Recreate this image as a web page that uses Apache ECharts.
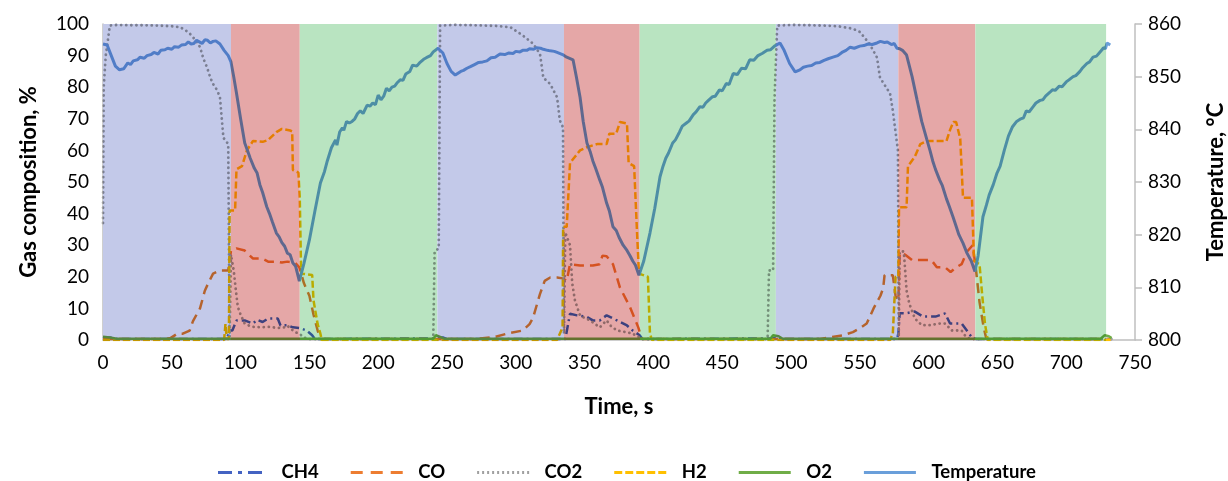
<!DOCTYPE html>
<html>
<head>
<meta charset="utf-8">
<script src="https://cdn.jsdelivr.net/npm/echarts@6/dist/echarts.min.js"></script>
<style>
html,body{margin:0;padding:0;background:#fff;}
#chart{width:1228px;height:481px;}
</style>
</head>
<body>
<div id="chart"></div>
<script>
// ---- Data (time in s, gas in %, temperature in °C) ----
const xTicks = { min: 0, max: 750, interval: 50 };
const gasTicks = { min: 0, max: 100, interval: 10 };
const tempTicks = { min: 800, max: 860, interval: 10 };

// phase bands: [start, end, phaseIndex] 0 = blue, 1 = red, 2 = green
const phases = [
  [0, 93, 0], [93, 143, 1], [143, 243, 2],
  [243, 335, 0], [335, 390, 1], [390, 489, 2],
  [489, 578, 0], [578, 634, 1], [634, 729, 2]
];

const ch4 = [[0,0.5],[5,0.8],[10,0.3],[90,0.3],[92,3],[94,3],[97,6.2],[103,6.2],[109,5.2],[112,6.4],[116,5.7],[120,6.8],[127,6.8],[129,4.6],[134,4.7],[138,4],[143,3.8],[148,3],[152,1.5],[154,0.3],[243,0.5],[247,0.8],[250,0.3],[336,0.3],[337,0.8],[339.4,8.3],[344.5,7.8],[351.7,7.3],[356,6.2],[361,6.2],[366,7.8],[373.5,6.2],[380.8,4.6],[385,3],[390,1.5],[392,0.3],[487,0.5],[490,1],[493,0.3],[577,0.3],[578,2],[579,8.5],[583,8.4],[590,9],[596,7.4],[605,7.4],[612,8.4],[615.6,5.2],[624,5.2],[628.6,2.5],[632,0.5],[635,0.3],[733,0.3]];

const co = [[0,0.3],[45,0.3],[49,0.6],[54,2],[58,2],[63,3],[65.4,6],[70.5,10],[74,15.6],[76.3,17.8],[80,21],[83,21.6],[86,22],[91,22],[93,28.3],[97,29],[103,28.3],[106,27],[109,25.8],[115.5,25.8],[120,24.8],[126,24.8],[130,24.5],[134,24.8],[139.5,24.5],[142.7,23],[146,18],[150,14],[153,8],[156,3],[158,0.3],[270,0.3],[274,0.5],[285,1],[293.6,2],[305,3],[310,5],[312.5,7],[317.6,14.6],[321,18.7],[325,19.8],[330,19.8],[334,19.5],[337,18.7],[339.4,24],[346.7,23.6],[356,23.6],[361,24],[363,26.7],[366,26.5],[370.6,24],[375.7,16.6],[383,10.4],[389,4],[391.7,0.3],[521,0.3],[538,1.5],[545,2.5],[551,4],[555,5.2],[560,10],[565,14],[567,16.4],[568,20.5],[574,20.5],[576,14],[578,12.5],[579,27.5],[583,27],[588,25.3],[602,25.3],[606,23],[612,23],[616,21.5],[620,23],[624,24],[628,28],[632,30],[634,24],[637,12],[640,4],[642,0.3],[733,0.3]];

const co2 = [[0,37],[0.5,80],[2,90],[5,99.5],[10,99.7],[20,99.6],[30,99.6],[40,99.5],[50,99.3],[56,99],[60,98],[63,97],[67,95],[70.5,92.7],[73,89],[75.5,86.4],[78,83],[80,81],[83,79],[85,76.8],[87.5,64],[91,62],[92,1],[93,27],[95,22],[97,14],[98,10.5],[100,8],[103,5.2],[108,4.2],[115,4],[120,4.2],[127,3.8],[132,4],[134,4.5],[139.5,2.5],[142.7,2],[146,0.8],[150,0.3],[240,0.3],[241,28],[244,29],[245,99.5],[255,99.7],[270,99.6],[285,99.4],[296,99],[305,96.4],[312.5,93.8],[317.6,90.5],[320,83],[325,81],[330,76.8],[332,69.5],[334.3,67.3],[335,2],[336,34],[339.4,30],[341,18],[343,12.5],[346.7,7.7],[350,7],[354,6.2],[361,4],[366,6.2],[369,4.5],[373.5,3],[380,2.5],[385,2],[389,1],[392,0.3],[483,0.3],[484,22],[487,22],[488,76],[490,99.5],[500,99.7],[515,99.6],[530,99.4],[535.6,99.2],[545,98.5],[550,97.5],[557,93.8],[562.5,89.4],[564.7,83],[572,78],[574,72.6],[577.7,60],[578.3,1],[579,28],[582,28],[584,15.6],[586,11.5],[590,6.8],[595,4.7],[602,4.7],[607,5.2],[612,5.2],[617,3],[624,3],[626.5,1.4],[630,0.3],[733,0.3]];

const h2 = [[0,0],[88,0],[89,5],[90,0.3],[91.5,0.3],[92,41],[96,41],[97,54],[101,55],[104.6,60],[109,63],[116,62.7],[120,63.3],[126,65.8],[130,66.8],[136,66.3],[137.5,66],[138,53.8],[142,53],[143,45],[144,21],[152,20.6],[153,12.5],[156,5],[158,2],[159,0],[330,0],[332,2],[334,4],[334.4,35.8],[337,35.8],[339.4,56],[343,58],[346.7,60],[351.7,61],[359,62],[366,62],[368,65.3],[373,65.3],[375.7,69],[380.8,68.5],[382,56],[386,55],[388,35],[389.5,21],[396,20],[397.5,2],[399,0],[572,0],[574,2],[576,20],[578,20],[578.5,42],[584,42],[585,55],[590,58],[594,62],[599,63],[613,63],[615.6,66.5],[618,69],[620,69],[623,63.7],[625,45],[631.5,45],[633,25],[637,24],[639,14],[641,5],[643,0],[733,0]];

const o2 = [[0,1],[5,0.8],[10,0.4],[240,0.4],[242,1.5],[245,1],[248,0.4],[485,0.4],[487,1.5],[491,1.2],[494,0.4],[725,0.4],[728,1.5],[731,1.2],[733,0.6]];

const temperature = [[0,856.2],[3,856],[6,854],[9,852],[12,851.3],[15,851.5],[18,852.6],[20,852.3],[22,853],[25,853.2],[27,853.7],[30,853.5],[32,854],[35,854.2],[37,854.6],[40,854.3],[42,855],[45,855.1],[47,855.4],[50,855.2],[52,855.7],[55,855.6],[57,856],[60,856.1],[62,856.6],[64,856.2],[66,856.3],[68,856.9],[70,856.6],[72,856.3],[74,857],[76,856.9],[78,856.4],[80,856.7],[82,856.8],[85,856.2],[88,855],[91,854],[93,852.8],[95,850],[97,846.9],[100,842],[103,837.4],[105,836],[107,834.5],[110,832.6],[112,831.7],[114,829.5],[116,828],[119,825.3],[121,824],[123,822.5],[126,820.3],[128,819.6],[130,818.5],[132,817.8],[134,816.5],[136,816.2],[138,814.6],[140,814],[142.7,811.2],[146,814.5],[150,819],[154,824.5],[158,829.8],[161,832],[163,834],[166,836.5],[169,838],[170,837],[172,839.5],[174,840.3],[175,839.8],[177,841.5],[179,841.2],[181,841.5],[183,842],[185,843],[187,843.5],[189,843],[192,844.6],[194,844.4],[196,845],[198,844.7],[200,846.5],[202,845.6],[204,846.3],[206,847.8],[208,847.3],[210,848],[212,848.2],[214,848.9],[216,849.4],[218,849.3],[220,850.5],[223,851],[225,852.2],[228,852],[230,852.6],[233,853.3],[235,853.6],[238,854],[240,854.7],[243.5,855.4],[247,854.5],[250,852.5],[253,851],[256,850.3],[260,851],[262,851.2],[264.5,851.6],[267,851.9],[270,852.3],[273,852.7],[276,852.8],[279,853],[282,853.6],[285,853.7],[288.5,854.3],[292,854.2],[295,854.5],[298,854.4],[300,854.8],[303,854.7],[305,855],[308,855],[310,855.3],[313,855.2],[315,855.5],[318,855.4],[320,855.2],[323,855],[325,854.9],[328,854.8],[330,854.6],[334,854.2],[337,853.7],[341.6,853.2],[344,850],[346.7,846.1],[349,841.5],[351.7,837.4],[354,835.8],[356,834],[358,832.6],[361,830.4],[363,829],[366,826],[368,824.5],[370.6,821.5],[373,820.8],[375,819.5],[378,818],[380.8,817],[383,816],[385,815],[387,814.2],[389.5,812.3],[393,815],[397.5,820.3],[401,825],[404.8,831],[407,833],[409,834.5],[411,835.5],[414,837.4],[416,838],[419,839.5],[421,840.6],[424,841.2],[426,841.6],[429,842.8],[431,843.3],[433.8,844.3],[436,844.2],[438,845],[440,845.5],[443,846.2],[445,846.3],[448,847.5],[450,847.3],[453,848.7],[455,848.5],[458,850.6],[461,850.4],[464,851.6],[467,851.5],[470,853.2],[473,853.1],[476,854],[479,854.4],[482.6,855],[485,855.1],[488,855.8],[492,856.4],[495,855],[499,852.5],[503,850.9],[506.5,851.3],[509,851.8],[512,852],[515,852.1],[518,852.6],[521,852.7],[524,853.1],[527,853.4],[530.5,853.7],[534,854],[537,854.6],[540,855],[543,855.6],[546,855.4],[550,855.8],[553,855.9],[556,856.2],[559,856.1],[562.5,856.4],[565,856.7],[568,856.5],[570,856.6],[573,856.1],[575,856.3],[577,855.4],[579,855.3],[581,855],[584,854.1],[588,850],[591.6,845.6],[595,841.5],[598.8,838],[601,836],[603,834],[605,832.4],[608,830.4],[610,829.3],[613,826.8],[615,825.4],[617.7,823.4],[620,821.6],[622,820],[625,818.4],[627.9,816.5],[631,815],[633.7,813],[636,816],[639.5,823.4],[642,825.6],[644,827.5],[647,829.5],[649.7,831.7],[652,833],[655,836],[658,838.7],[661,840.5],[664,841.5],[667,842],[669,842.2],[671,843.5],[673,843.3],[676,844.3],[678,845],[681,845.5],[683,845.6],[685,846.3],[688,847],[690,847.5],[692,847.4],[695,848.2],[697,848.1],[700,849],[702,849.4],[705,850],[707,850.2],[710,851],[712,851.7],[715,852.5],[717,852.8],[719.5,853.7],[722,853.9],[724,854.5],[726,855.1],[727,855.5],[728.5,855.3],[729.7,856.4],[732,856]];

const seriesNames = ['CH4', 'CO', 'CO2', 'H2', 'O2', 'Temperature'];

// ---- Styling ----
const FONT = 'Lato';
const bandColors = ['#c3c9e9', '#e5a7a7', '#b9e4c1'];
const lineColors = {
  CH4: '#4463c2', CO: '#ed7d31', CO2: '#a0a0a0', H2: '#ffc000', O2: '#70ad47', Temperature: '#6a9fda'
};
// colour a line takes when seen through a translucent band (multiply)
function hexToRgb(h) { return [1, 3, 5].map(i => parseInt(h.substr(i, 2), 16)); }
function multiply(a, b) {
  const A = hexToRgb(a), B = hexToRgb(b);
  return 'rgb(' + A.map((v, i) => Math.round(v * B[i] / 255)).join(',') + ')';
}
// legend icons drawn as dashed paths
const icons = {
  CH4: 'path://M0,0h14v3h-14z M20,0h4v3h-4z M30,0h14v3h-14z',
  CO: 'path://M0,0h12v3h-12z M20,0h12v3h-12z M40,0h12v3h-12z',
  CO2: 'path://M0,0h2v3h-2z M5,0h2v3h-2z M10,0h2v3h-2z M15,0h2v3h-2z M20,0h2v3h-2z M25,0h2v3h-2z M30,0h2v3h-2z M35,0h2v3h-2z M40,0h2v3h-2z M45,0h2v3h-2z M50,0h2v3h-2z',
  H2: 'path://M0,0h8v3h-8z M11,0h8v3h-8z M22,0h8v3h-8z M33,0h8v3h-8z M44,0h8v3h-8z',
  O2: 'path://M0,0h52v3h-52z',
  Temperature: 'path://M0,0h52v3h-52z'
};

function lineSeries(name, data, type, width, yAxisIndex, cap) {
  return {
    name: name, type: 'line', data: data, yAxisIndex: yAxisIndex || 0,
    symbol: 'none', showSymbol: false, z: 3,
    lineStyle: { width: width, type: type, cap: cap || 'butt' },
    animation: false
  };
}

const seriesDefs = [
  lineSeries('CH4', ch4, [9, 4, 2, 4], 2.5),
  lineSeries('CO', co, [10, 6], 2.5),
  lineSeries('CO2', co2, [0.1, 5], 2.8, 0, 'round'),
  lineSeries('H2', h2, [7, 3], 2.5),
  lineSeries('O2', o2, 'solid', 2.5),
  lineSeries('Temperature', temperature, 'solid', 3, 1)
];

const visualMaps = seriesNames.map((n, i) => ({
  type: 'piecewise', show: false, dimension: 0, seriesIndex: i,
  pieces: phases.map(p => ({ gte: p[0], lt: p[1], color: multiply(lineColors[n], bandColors[p[2]]) })),
  outOfRange: { color: lineColors[n] }
}));

const chart = echarts.init(document.getElementById('chart'), null, { renderer: 'canvas' });

const option = {
  backgroundColor: '#ffffff',
  animation: false,
  color: seriesNames.map(n => lineColors[n]),
  textStyle: { fontFamily: FONT, color: '#000' },
  grid: { left: 103, right: 93, top: 24, bottom: 141, containLabel: false, outerBoundsMode: 'none' },
  visualMap: visualMaps,
  legend: {
    data: seriesNames.map(n => ({ name: n, icon: icons[n], itemStyle: { color: lineColors[n] } })),
    left: 213, top: 458,
    itemWidth: 59, itemHeight: 3, itemGap: 32,
    textStyle: { fontFamily: FONT, fontWeight: 'bold', fontSize: 18.5, color: '#000', padding: [0, 0, 0, 7] },
    selectedMode: false
  },
  xAxis: {
    type: 'value', min: xTicks.min, max: xTicks.max, interval: xTicks.interval,
    name: 'Time, s', nameLocation: 'middle', nameGap: 56,
    nameTextStyle: { fontFamily: FONT, fontWeight: 'bold', fontSize: 22, color: '#000' },
    axisLine: { show: true, lineStyle: { color: '#bfbfbf', width: 1.5 } },
    axisTick: { show: false },
    splitLine: { show: false },
    axisLabel: { fontFamily: FONT, fontSize: 19, color: '#000', margin: 13 }
  },
  yAxis: [
    {
      type: 'value', min: gasTicks.min, max: gasTicks.max, interval: gasTicks.interval,
      name: 'Gas composition, %', nameLocation: 'middle', nameRotate: 90, nameGap: 63,
      nameTextStyle: { fontFamily: FONT, fontWeight: 'bold', fontSize: 22, color: '#000' },
      axisLine: { show: true, lineStyle: { color: '#bfbfbf', width: 1.5 } },
      axisTick: { show: false },
      splitLine: { show: false },
      axisLabel: { fontFamily: FONT, fontSize: 19, color: '#000', margin: 14 }
    },
    {
      type: 'value', position: 'right', min: tempTicks.min, max: tempTicks.max, interval: tempTicks.interval,
      name: 'Temperature, °C', nameLocation: 'middle', nameRotate: 90, nameGap: 70,
      nameTextStyle: { fontFamily: FONT, fontWeight: 'bold', fontSize: 22, color: '#000' },
      axisLine: { show: true, lineStyle: { color: '#bfbfbf', width: 1.5 } },
      axisTick: { show: true, inside: false, length: 7, lineStyle: { color: '#bfbfbf', width: 1.5 } },
      splitLine: { show: false },
      axisLabel: { fontFamily: FONT, fontSize: 19, color: '#000', margin: 13 }
    }
  ],
  series: seriesDefs.concat([
    {
      name: 'phases', type: 'custom', data: phases, z: 1, silent: true,
      clip: true,
      encode: { x: [0, 1] },
      renderItem: function (params, api) {
        const p0 = api.coord([api.value(0), gasTicks.max]);
        const p1 = api.coord([api.value(1), gasTicks.min]);
        return {
          type: 'rect',
          shape: { x: p0[0], y: p0[1], width: p1[0] - p0[0], height: p1[1] - p0[1] },
          style: { fill: bandColors[api.value(2)] }
        };
      }
    }
  ])
};
chart.setOption(option);
</script>
</body>
</html>
